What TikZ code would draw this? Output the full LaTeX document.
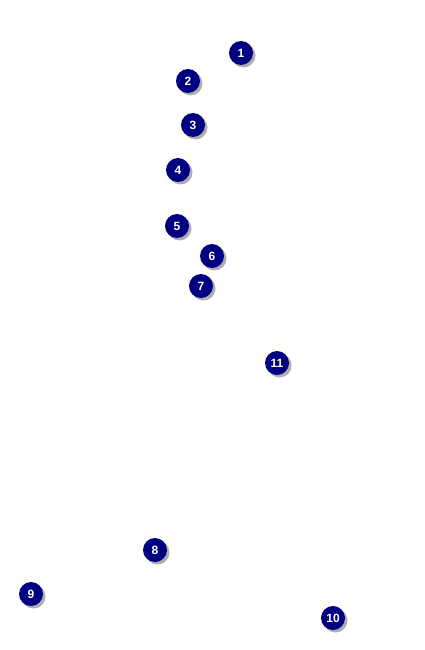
\documentclass[tikz,border=0pt]{standalone}
\usepackage{fontspec}
\setmainfont{Liberation Sans}
\usepackage{xcolor}
\definecolor{navy}{HTML}{000080}
\definecolor{shade}{HTML}{8C8C8C}
\usetikzlibrary{shadows}

\begin{document}
\begin{tikzpicture}[x=1pt, y=-1pt,
  marker/.style={circle, fill=navy, text=white, inner sep=0pt, minimum size=24pt,
    font=\fontsize{12}{12}\selectfont\bfseries,
    drop shadow={shadow xshift=2.5pt, shadow yshift=-2.5pt, fill=shade, opacity=0.7}}]
\useasboundingbox[fill=white] (0,0) rectangle (425,650);
\node[marker] (m1) at (241,53) {1};
\node[marker] (m2) at (188,81) {2};
\node[marker] (m3) at (193,125) {3};
\node[marker] (m4) at (178,170) {4};
\node[marker] (m5) at (177,226) {5};
\node[marker] (m6) at (212,256) {6};
\node[marker] (m7) at (201,286) {7};
\node[marker] (m11) at (277,363) {11};
\node[marker] (m8) at (155,550) {8};
\node[marker] (m9) at (31,594) {9};
\node[marker] (m10) at (333,618) {10};
\end{tikzpicture}
\end{document}
